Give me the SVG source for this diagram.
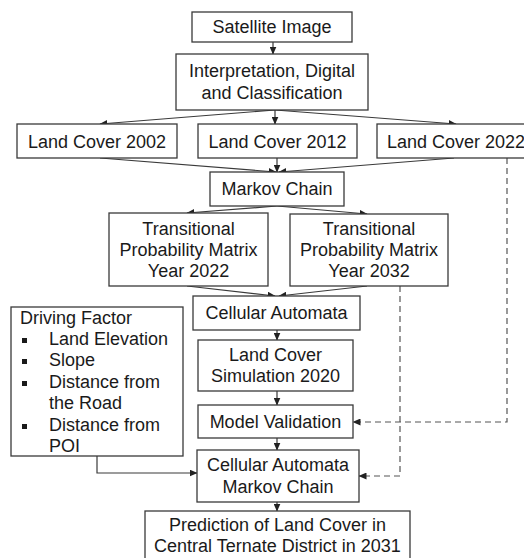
<svg xmlns="http://www.w3.org/2000/svg" width="524" height="558" viewBox="0 0 524 558">
<defs>
<marker id="ah" markerWidth="8" markerHeight="7" refX="7.5" refY="3.5" orient="auto" markerUnits="userSpaceOnUse">
<path d="M0,0 L8,3.5 L0,7 Z" fill="#222"/>
</marker>
<style>
.box{fill:#fff;stroke:#3a3a3a;stroke-width:1.3}
text{font-family:"Liberation Sans",Arial,sans-serif;font-size:18px;fill:#1a1a1a}
.c{text-anchor:middle}
.ln{fill:none;stroke:#3a3a3a;stroke-width:1.2;marker-end:url(#ah)}
.ds{fill:none;stroke:#555;stroke-width:1.2;stroke-dasharray:6,4;marker-end:url(#ah)}
.bul{fill:#1a1a1a}
</style>
</defs>
<rect width="524" height="558" fill="#fff"/>
<g id="connectors">
<line class="ln" x1="273" y1="42" x2="273" y2="54"/>
<line class="ln" x1="275" y1="110" x2="100" y2="124"/>
<line class="ln" x1="275" y1="110" x2="275" y2="124"/>
<line class="ln" x1="275" y1="110" x2="456" y2="124"/>
<line class="ln" x1="100" y1="158" x2="276" y2="172"/>
<line class="ln" x1="277" y1="158" x2="277" y2="172"/>
<line class="ln" x1="454" y1="158" x2="279" y2="172"/>
<line class="ln" x1="277" y1="206" x2="187" y2="213"/>
<line class="ln" x1="277" y1="206" x2="367" y2="214"/>
<line class="ln" x1="187" y1="286" x2="275" y2="296"/>
<line class="ln" x1="367" y1="286" x2="279" y2="296"/>
<line class="ln" x1="277" y1="330" x2="277" y2="340"/>
<line class="ln" x1="277" y1="391" x2="277" y2="405"/>
<line class="ln" x1="277" y1="438" x2="277" y2="450"/>
<line class="ln" x1="277" y1="502" x2="277" y2="511"/>
<polyline class="ln" points="97,456 97,473 197,473"/>
<polyline class="ds" points="507,158 507,422 353,422"/>
<polyline class="ds" points="400,286 400,476 359,476"/>
</g>
<g id="satellite">
<rect class="box" x="192" y="12" width="160" height="30"/>
<text class="c" x="272" y="33">Satellite Image</text>
</g>
<g id="interpretation">
<rect class="box" x="176" y="54" width="192" height="56"/>
<text class="c" x="272" y="77">Interpretation, Digital</text>
<text class="c" x="272" y="99">and Classification</text>
</g>
<g id="lc2002">
<rect class="box" x="17" y="124" width="160" height="34"/>
<text class="c" x="97" y="148">Land Cover 2002</text>
</g>
<g id="lc2012">
<rect class="box" x="198" y="124" width="159" height="34"/>
<text class="c" x="277.5" y="148">Land Cover 2012</text>
</g>
<g id="lc2022">
<rect class="box" x="377" y="124" width="160" height="34"/>
<text x="387" y="148">Land Cover 2022</text>
</g>
<g id="markov">
<rect class="box" x="210" y="172" width="134" height="34"/>
<text class="c" x="277" y="195">Markov Chain</text>
</g>
<g id="tpm2022">
<rect class="box" x="109" y="213" width="159" height="73"/>
<text class="c" x="188.5" y="235">Transitional</text>
<text class="c" x="188.5" y="256">Probability Matrix</text>
<text class="c" x="188.5" y="277">Year 2022</text>
</g>
<g id="tpm2032">
<rect class="box" x="290" y="214" width="158" height="72"/>
<text class="c" x="369" y="235">Transitional</text>
<text class="c" x="369" y="256">Probability Matrix</text>
<text class="c" x="369" y="277">Year 2032</text>
</g>
<g id="ca">
<rect class="box" x="193" y="296" width="167" height="34"/>
<text class="c" x="276.5" y="319">Cellular Automata</text>
</g>
<g id="driving">
<rect class="box" x="11" y="307" width="172" height="149"/>
<text x="20" y="324">Driving Factor</text>
<rect class="bul" x="22" y="338" width="5" height="5"/>
<text x="49" y="345">Land Elevation</text>
<rect class="bul" x="22" y="359" width="5" height="5"/>
<text x="49" y="366">Slope</text>
<rect class="bul" x="22" y="381" width="5" height="5"/>
<text x="49" y="388">Distance from</text>
<text x="49" y="409">the Road</text>
<rect class="bul" x="22" y="424" width="5" height="5"/>
<text x="49" y="431">Distance from</text>
<text x="49" y="452">POI</text>
</g>
<g id="lcsim">
<rect class="box" x="198" y="340" width="155" height="51"/>
<text class="c" x="275.5" y="361">Land Cover</text>
<text class="c" x="275.5" y="382">Simulation 2020</text>
</g>
<g id="validation">
<rect class="box" x="198" y="405" width="155" height="33"/>
<text class="c" x="275.5" y="428">Model Validation</text>
</g>
<g id="camc">
<rect class="box" x="197" y="450" width="162" height="52"/>
<text class="c" x="278" y="471">Cellular Automata</text>
<text class="c" x="278" y="493">Markov Chain</text>
</g>
<g id="prediction">
<rect class="box" x="145" y="511" width="265" height="52"/>
<text class="c" x="277.5" y="531">Prediction of Land Cover in</text>
<text class="c" x="277.5" y="552">Central Ternate District in 2031</text>
</g>
</svg>
